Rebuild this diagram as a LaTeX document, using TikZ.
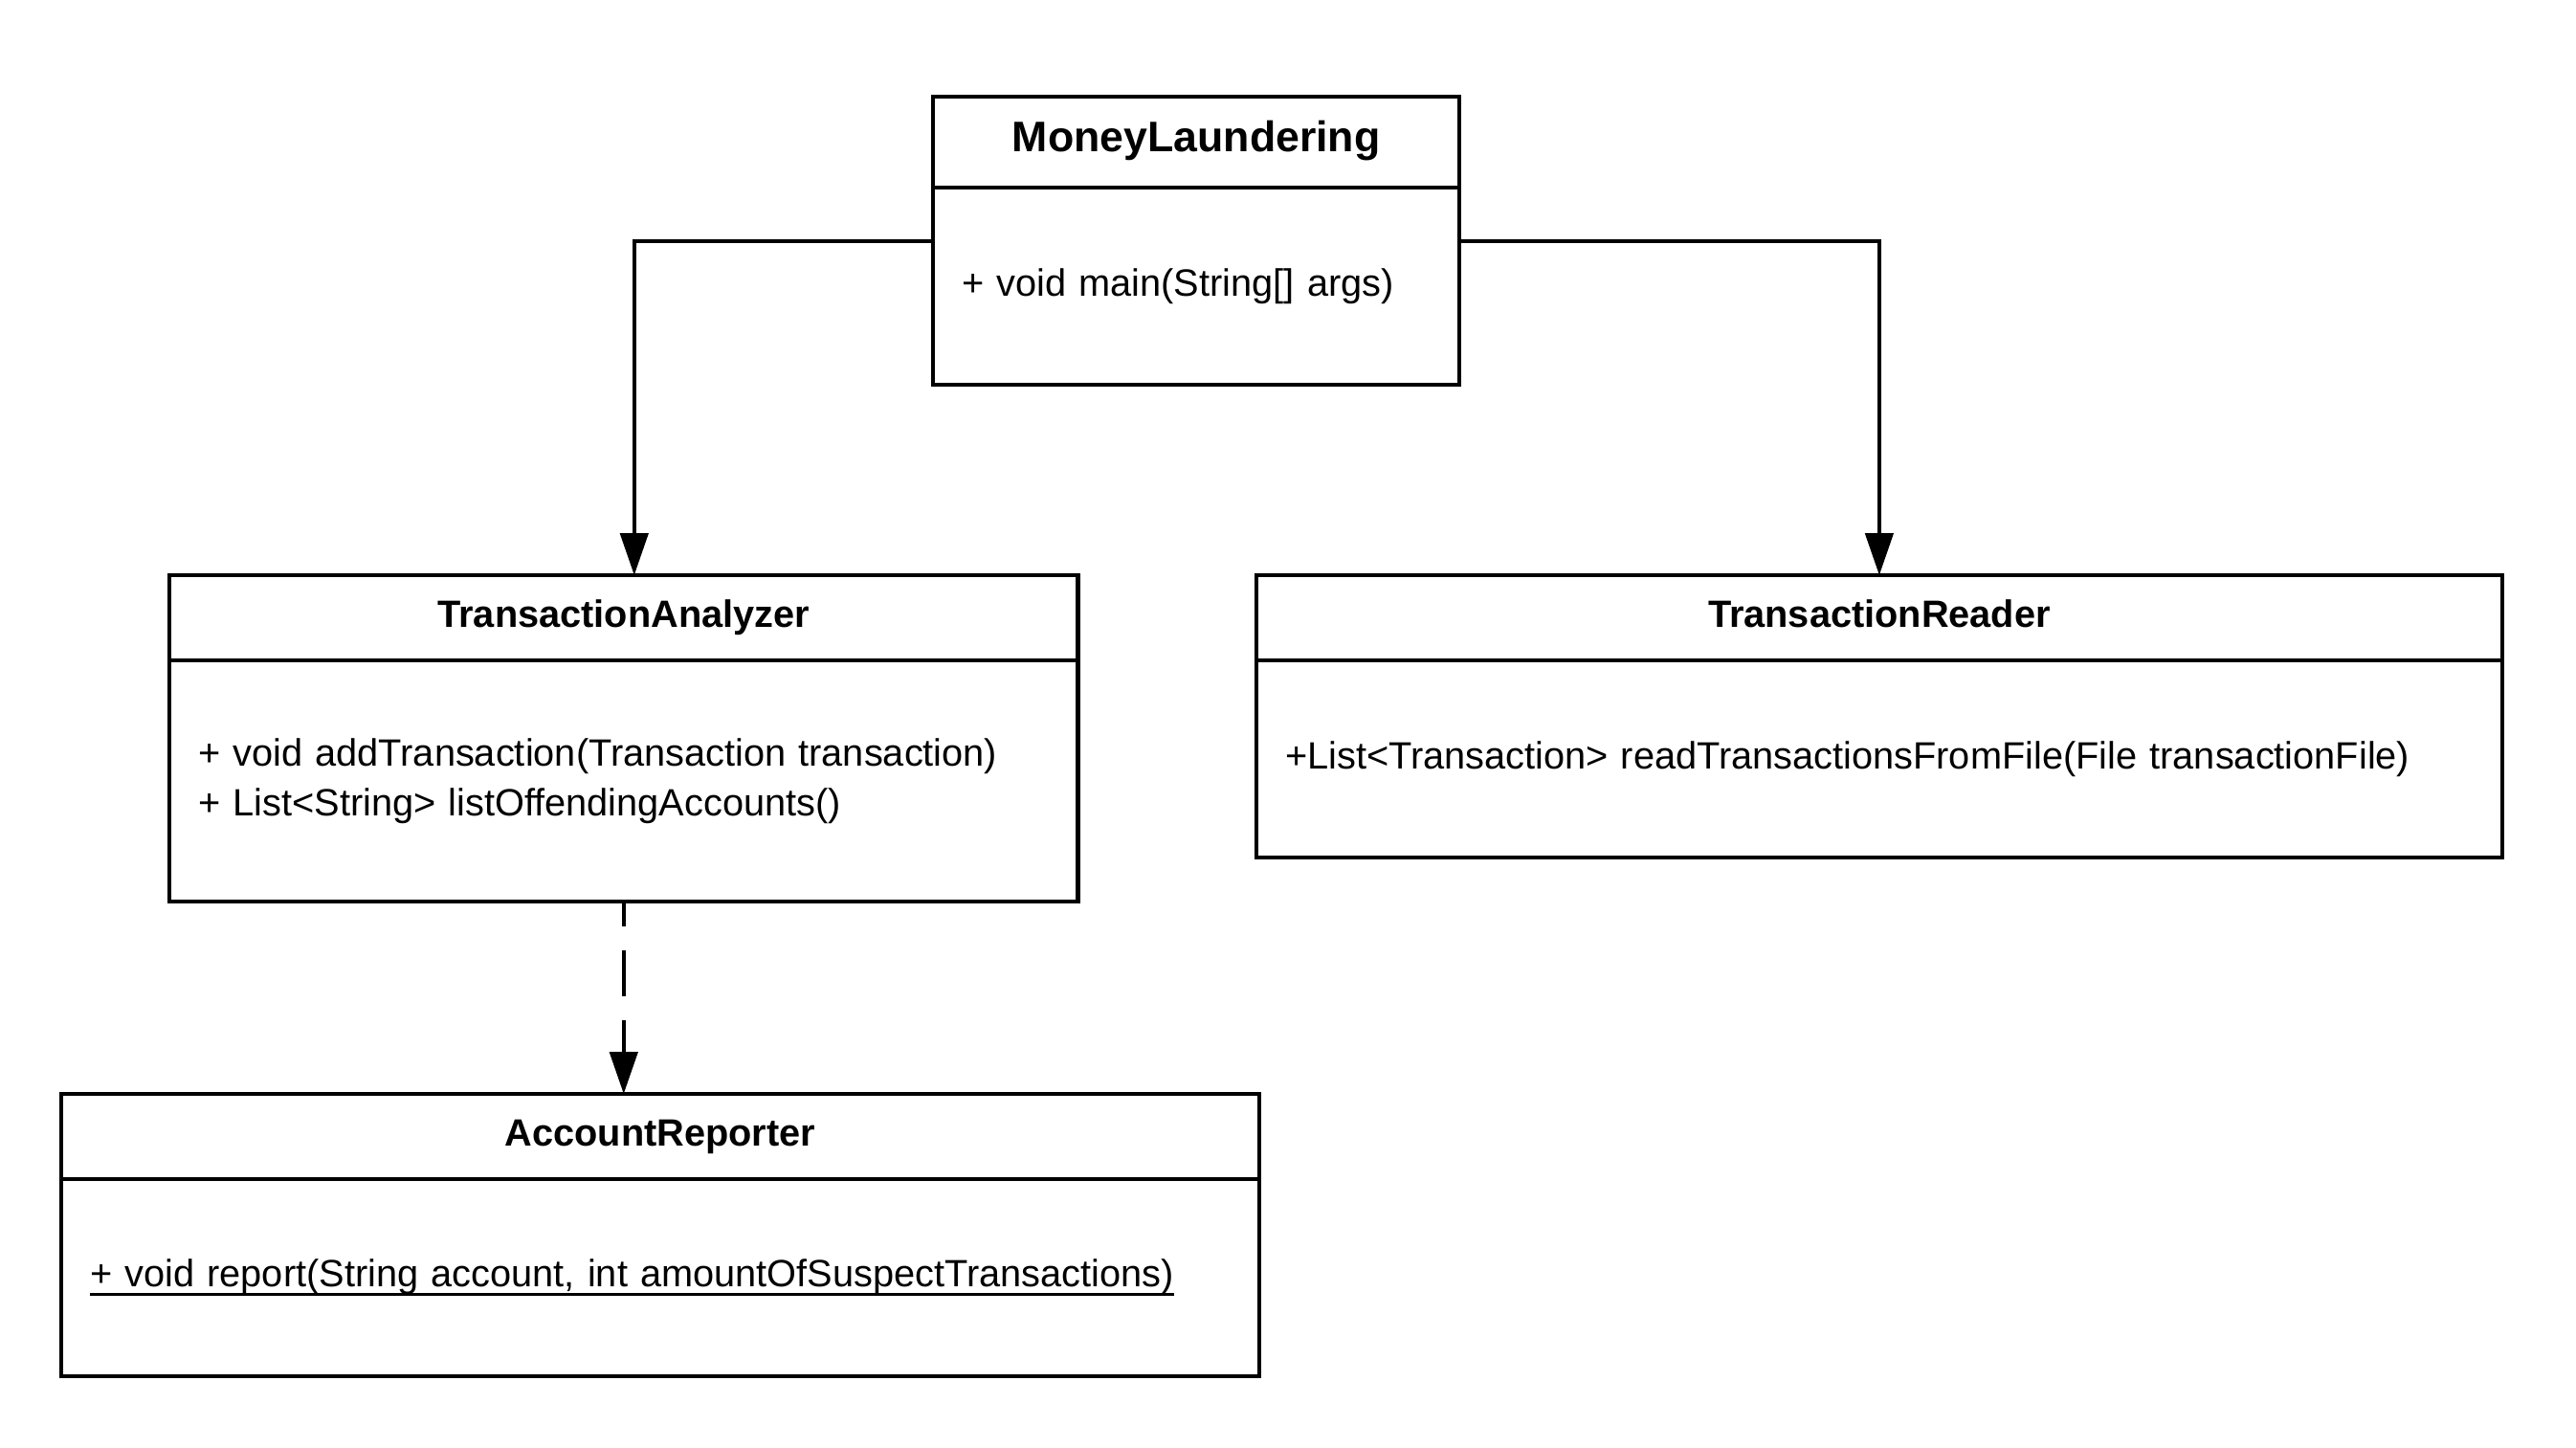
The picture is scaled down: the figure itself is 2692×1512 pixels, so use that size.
\documentclass[tikz,border=0pt]{standalone}
\usepackage{fontspec}
\setmainfont{Liberation Sans}
\usepackage{tikz}
\usetikzlibrary{positioning,arrows.meta}
\newcommand{\ultext}[1]{\setbox0\hbox{#1}\rlap{\rule[-2.6pt]{\wd0}{0.9pt}}\box0}

\begin{document}
\begin{tikzpicture}[x=0.01cm,y=-0.01cm]
\useasboundingbox (0,0) rectangle (2692,1512);
\tikzstyle{every node}=[draw,line width=1.2pt,anchor=north west,inner ysep=0pt,outer sep=0pt]
\tikzstyle{head}=[font=\fontsize{11.3pt}{14pt}\selectfont\bfseries,minimum height=0.89cm,inner xsep=0pt,text height=0.29cm,text depth=0.09cm]
\tikzstyle{body}=[font=\fontsize{11.3pt}{14.8pt}\selectfont,align=left,inner xsep=0.3cm,minimum height=2.06cm]
\tikzstyle{arr}=[line width=1.15pt,-{Triangle[length=12.5pt,width=8.3pt]}]

% classes
\node[head,minimum width=5.50cm,minimum height=0.95cm,font=\fontsize{12.7pt}{15pt}\selectfont\bfseries] (ml) at (975,101) {MoneyLaundering};
\node[body,text width=4.90cm] (mlb) at (ml.south west) {+ void main(String[] args)};

\node[head,minimum width=9.49cm] (ta) at (177,601) {TransactionAnalyzer};
\node[body,text width=8.89cm,minimum height=2.52cm] (tab) at (ta.south west) {+ void addTransaction(Transaction transaction)\\+ List<String> listOffendingAccounts()};

\node[head,minimum width=13.01cm] (tr) at (1313,601) {TransactionReader};
\node[body,text width=12.41cm] (trb) at (tr.south west) {+List<Transaction> readTransactionsFromFile(File transactionFile)};

\node[head,minimum width=12.51cm] (ar) at (64,1143) {AccountReporter};
\node[body,text width=11.91cm] (arb) at (ar.south west) {\ultext{+ void report(String account, int amountOfSuspectTransactions)}};

% connectors
\draw[arr] ([yshift=-0.56cm]mlb.north west) -| ([xshift=0.11cm]ta.north);
\draw[arr] ([yshift=-0.56cm]mlb.north east) -| (tr.north);
\draw[arr,dash pattern=on 13.7pt off 7.1pt,dash phase=6.3pt] (tab.south) -- (tab.south |- ar.north);
\end{tikzpicture}
\end{document}
